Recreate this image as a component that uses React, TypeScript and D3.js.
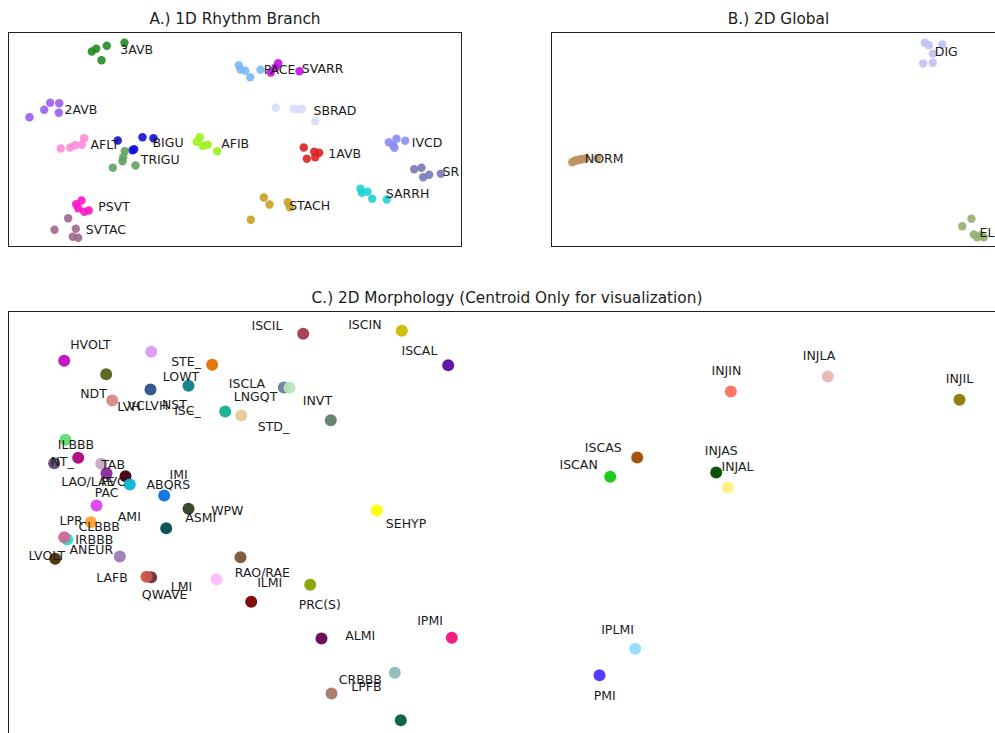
import React from 'react';
import * as d3 from 'd3';

// ---- A.) 1D Rhythm Branch ----
const aNames = ['3AVB', '2AVB', 'AFLT', 'BIGU', 'TRIGU', 'AFIB', 'PSVT', 'SVTAC', 'PACE', 'SVARR', 'SBRAD', '1AVB', 'IVCD', 'SR', 'SARRH', 'STACH'];
const aColors = ['#228b22', '#9d5cf5', '#ff8ad8', '#1010dd', '#62a062', '#9cf21c', '#ff14c8', '#a0668f', '#7ab8f5', '#c010e0', '#d8dcf8', '#dd2020', '#8c8cf5', '#7a78b8', '#1ed2d2', '#c9a020'];
const aX = [
  [8.33, 8.77, 9.83, 11.6, 9.3],
  [4.17, 5.07, 3.57, 5.03, 2.1],
  [5.23, 6.17, 6.67, 7.33, 7.57],
  [10.93, 13.4, 14.5, 12.57, 12.4],
  [11.63, 11.47, 11.4, 10.43, 12.7],
  [19.13, 18.83, 19.43, 19.93, 20.87],
  [7.3, 6.77, 6.97, 7.57, 8.03],
  [5.97, 4.6, 6.73, 6.43, 6.97],
  [23.03, 23.2, 23.67, 24.17, 25.2],
  [26.97, 26.23, 29.1, 26.7],
  [26.73, 28.5, 29.03, 29.37, 30.67],
  [29.53, 30.57, 31.07, 30.67, 29.83],
  [38.03, 38.8, 38.47, 38.6, 39.67],
  [40.57, 41.3, 41.47, 42.07, 43.23],
  [35.2, 35.33, 35.9, 36.37, 37.83],
  [25.53, 26.1, 27.93, 28.13, 24.23],
];
const aY = [
  [19.5, 19.77, 20.07, 20.37, 18.63],
  [14.37, 14.33, 13.67, 13.37, 12.93],
  [9.8, 9.9, 10.13, 10.17, 10.83],
  [10.6, 10.93, 10.83, 9.73, 9.63],
  [9.53, 8.93, 8.53, 7.87, 8.1],
  [10.93, 10.47, 10.07, 10.17, 9.53],
  [4.6, 4.23, 3.83, 3.47, 3.6],
  [2.83, 1.67, 1.77, 0.97, 0.87],
  [18.13, 17.7, 17.57, 16.93, 17.67],
  [18.33, 17.4, 17.53, 17.9],
  [13.87, 13.77, 13.73, 13.77, 12.53],
  [9.9, 9.47, 9.37, 8.93, 8.77],
  [10.43, 10.77, 10.1, 9.87, 10.57],
  [7.73, 7.87, 6.93, 7.17, 7.27],
  [5.77, 5.37, 5.47, 4.77, 4.7],
  [4.9, 4.2, 4.43, 3.93, 2.67],
];
const aLabelX = [11.17, 5.6, 8.2, 14.4, 13.23, 21.27, 8.97, 7.73, 25.53, 29.33, 30.5, 31.97, 40.33, 43.4, 37.73, 28.07];
const aLabelY = [19.25, 13.28, 9.78, 9.95, 8.22, 9.82, 3.58, 1.25, 17.22, 17.38, 13.15, 8.88, 9.98, 7.02, 4.82, 3.65];

// ---- B.) 2D Global ----
const bNames = ['DIG', 'NORM', 'EL'];
const bColors = ['#c0c0f5', '#c09462', '#8fb070'];
const bX = [
  [37.33, 37.73, 39.07, 38.13, 37.17, 38.13],
  [2.07, 2.25, 2.4, 2.55, 2.73, 2.9, 3.07, 3.4, 4.57],
  [41.07, 42.0, 42.23, 42.57, 43.23, 42.9],
];
const bY = [
  [20.37, 20.13, 20.2, 19.27, 18.3, 18.37],
  [8.43, 8.52, 8.6, 8.63, 8.67, 8.7, 8.73, 8.8, 8.83],
  [2.03, 2.77, 1.2, 0.93, 0.93, 1.1],
];
const bLabelX = [38.33, 3.33, 42.8];
const bLabelY = [19.02, 8.32, 0.98];

// ---- C.) 2D Morphology (centroids) ----
const cNames = ['HVOLT', 'LVH', 'VCLVH', 'NDT', 'NST_', 'LOWT', 'STE_', 'ISC_', 'ISCLA', 'LNGQT', 'STD_', 'INVT', 'ISCIL', 'ISCIN', 'ISCAL',
  'ILBBB', 'NT_', 'IVCD_', 'TAB', 'LAO/LAE', 'PVC', 'IMI', 'ABQRS', 'PAC', 'ASMI', 'AMI', 'LPR', 'IRBBB', 'CLBBB', 'ANEUR', 'LVOLT', 'RAO/RAE',
  'QWAVE', 'LAFB', 'LMI', 'ILMI', 'PRC(S)', 'SEHYP', 'ALMI', 'IPMI', 'CRBBB', 'LPFB', 'PVU',
  'INJIN', 'INJLA', 'INJIL', 'ISCAS', 'ISCAN', 'INJAS', 'INJAL', 'IPLMI', 'PMI'];
const cColors = ['#c20bbd', '#df98f7', '#566019', '#d48a8a', '#2c4f86', '#0a7f86', '#e07000', '#13b08e', '#6b7fa0', '#b8e5b8', '#e5cc98', '#5f7f6a', '#a33a50', '#ccbb00', '#5b0aa0',
  '#5fdc6f', '#5a4a6a', '#a8087a', '#c8a8c8', '#8a2a9a', '#400008', '#0eb3cf', '#0a70dd', '#e040f0', '#333f22', '#004e50', '#ffa030', '#20e0c8', '#cc6a98', '#a07ab8', '#4a3000', '#7a5538',
  '#6a3040', '#cc5545', '#ffbbff', '#7a0000', '#88a000', '#ffff00', '#6a0050', '#f0147a', '#90b8b8', '#a87868', '#006040',
  '#ff7060', '#ebb5b5', '#8a7a00', '#a04a00', '#10c810', '#004a00', '#fff080', '#90dcff', '#4a30ff'];
const cX = [5.57, 14.27, 9.77, 10.37, 14.2, 18.0, 20.37, 21.67, 27.53, 28.1, 23.27, 32.23, 29.47, 39.33, 43.97,
  5.7, 4.57, 6.97, 9.27, 9.8, 11.7, 12.13, 15.57, 8.8, 18.0, 15.77, 8.23, 5.87, 5.57, 11.13, 4.67, 23.2,
  14.27, 13.8, 20.8, 24.27, 30.17, 36.83, 31.3, 44.33, 38.63, 32.3, 39.23,
  72.23, 81.93, 95.1, 62.87, 60.17, 70.77, 71.93, 62.67, 59.1];
const cY = [43.07, 43.97, 41.73, 39.1, 40.2, 40.57, 42.67, 38.0, 40.4, 40.37, 37.6, 37.13, 45.77, 46.07, 42.63,
  35.17, 32.83, 33.37, 32.77, 31.83, 31.53, 30.7, 29.6, 28.6, 28.27, 26.33, 26.93, 25.2, 25.43, 23.5, 23.27, 23.43,
  21.43, 21.47, 21.23, 18.97, 20.67, 28.1, 15.3, 15.37, 11.87, 9.8, 7.13,
  40.0, 41.5, 39.17, 33.4, 31.47, 31.9, 30.4, 14.27, 11.63];
const cLabels = ['HVOLT', 'NDT', 'LOWT', 'STE_', 'ISC_', 'LVH', 'VCLVH', 'NST_', 'ISCLA', 'LNGQT', 'STD_', 'INVT', 'ISCIL', 'ISCIN', 'ISCAL',
  'ILBBB', 'NT_', 'TAB', 'LAO/LAE', 'PVC', 'PAC', 'IMI', 'ABQRS', 'AMI', 'ASMI', 'WPW', 'LPR', 'CLBBB', 'IRBBB', 'ANEUR', 'LVOLT',
  'LAFB', 'QWAVE', 'LMI', 'RAO/RAE', 'ILMI', 'PRC(S)', 'SEHYP', 'ALMI', 'IPMI', 'CRBBB', 'LPFB', 'PVU',
  'INJIN', 'INJLA', 'INJIL', 'ISCAS', 'ISCAN', 'INJAS', 'INJAL', 'IPLMI', 'PMI'];
const cLabelX = [6.17, 7.17, 15.43, 16.27, 16.57, 10.87, 11.9, 15.35, 22.03, 22.53, 24.93, 29.43, 24.3, 33.97, 39.3,
  4.93, 4.2, 9.27, 5.27, 9.25, 8.63, 16.1, 13.8, 10.93, 17.67, 20.27, 5.1, 7.0, 6.67, 6.1, 2.0,
  8.77, 13.33, 16.23, 22.63, 24.87, 29.03, 37.73, 33.67, 40.87, 33.03, 34.27, 40.53,
  70.3, 79.43, 93.73, 57.63, 55.1, 69.63, 71.3, 59.27, 58.53];
const cLabelY = [44.25, 39.37, 41.1, 42.6, 37.67, 38.1, 38.2, 38.25, 40.37, 39.1, 36.1, 38.7, 46.17, 46.23, 43.67,
  34.27, 32.6, 32.27, 30.6, 30.6, 29.43, 31.27, 30.27, 27.1, 26.93, 27.67, 26.67, 26.1, 24.77, 23.77, 23.2,
  20.93, 19.27, 20.1, 21.43, 20.5, 18.27, 26.33, 15.17, 16.7, 10.77, 10.03, 4.6,
  41.7, 43.17, 40.87, 34.0, 32.27, 33.67, 32.03, 15.77, 9.2];

const FONT = 'DejaVu Sans, sans-serif';
const TXT = '#1a1a1a';

type PanelProps = {
  title: string; left: number; top: number; width: number; height: number;
  xDomain: [number, number]; yDomain: [number, number];
  children: (x: d3.ScaleLinear<number, number>, y: d3.ScaleLinear<number, number>) => React.ReactNode;
};

const Panel = ({ title, left, top, width, height, xDomain, yDomain, children }: PanelProps) => {
  const x = d3.scaleLinear().domain(xDomain).range([0, width]);
  const y = d3.scaleLinear().domain(yDomain).range([height, 0]);
  return (
    <g transform={`translate(${left},${top})`}>
      <text x={width / 2} y={-9} textAnchor="middle" fontSize={15.3} fill={TXT} fontFamily={FONT}>{title}</text>
      {children(x, y)}
      <rect x={0} y={0} width={width} height={height} fill="none" stroke="#222" strokeWidth={1} />
    </g>
  );
};

const Clusters = ({ names, colors, xs, ys, lx, ly, r, x, y }: any) => (
  <g>
    {names.map((n: string, i: number) => (
      <g key={n}>
        {xs[i].map((v: number, j: number) => (
          <circle key={j} cx={x(v)} cy={y(ys[i][j])} r={r} fill={colors[i]} fillOpacity={0.9} />
        ))}
      </g>
    ))}
    {names.map((n: string, i: number) => (
      <text key={'t' + n} x={x(lx[i])} y={y(ly[i])} fontSize={12.5} fill={TXT} fontFamily={FONT}>{n}</text>
    ))}
  </g>
);

export default function App() {
  return (
    <svg width={995} height={733} style={{ position: 'absolute', left: 0, top: 0, background: '#fff' }}>
      <Panel title="A.) 1D Rhythm Branch" left={8.5} top={32.5} width={453} height={214} xDomain={[0, 45.3]} yDomain={[0, 21.4]}>
        {(x, y) => <Clusters names={aNames} colors={aColors} xs={aX} ys={aY} lx={aLabelX} ly={aLabelY} r={4.2} x={x} y={y} />}
      </Panel>
      <Panel title="B.) 2D Global" left={551.5} top={32.5} width={454} height={214} xDomain={[0, 45.4]} yDomain={[0, 21.4]}>
        {(x, y) => <Clusters names={bNames} colors={bColors} xs={bX} ys={bY} lx={bLabelX} ly={bLabelY} r={4.2} x={x} y={y} />}
      </Panel>
      <Panel title="C.) 2D Morphology (Centroid Only for visualization)" left={8.5} top={311.5} width={997} height={480} xDomain={[0, 99.7]} yDomain={[0, 48]}>
        {(x, y) => (
          <g>
            {cNames.map((n, i) => (
              <circle key={n} cx={x(cX[i])} cy={y(cY[i])} r={6} fill={cColors[i]} fillOpacity={0.95} />
            ))}
            {cLabels.map((t, i) => (
              <text key={'l' + t} x={x(cLabelX[i])} y={y(cLabelY[i])} fontSize={12.5} fill={TXT} fontFamily={FONT}>{t}</text>
            ))}
          </g>
        )}
      </Panel>
    </svg>
  );
}
